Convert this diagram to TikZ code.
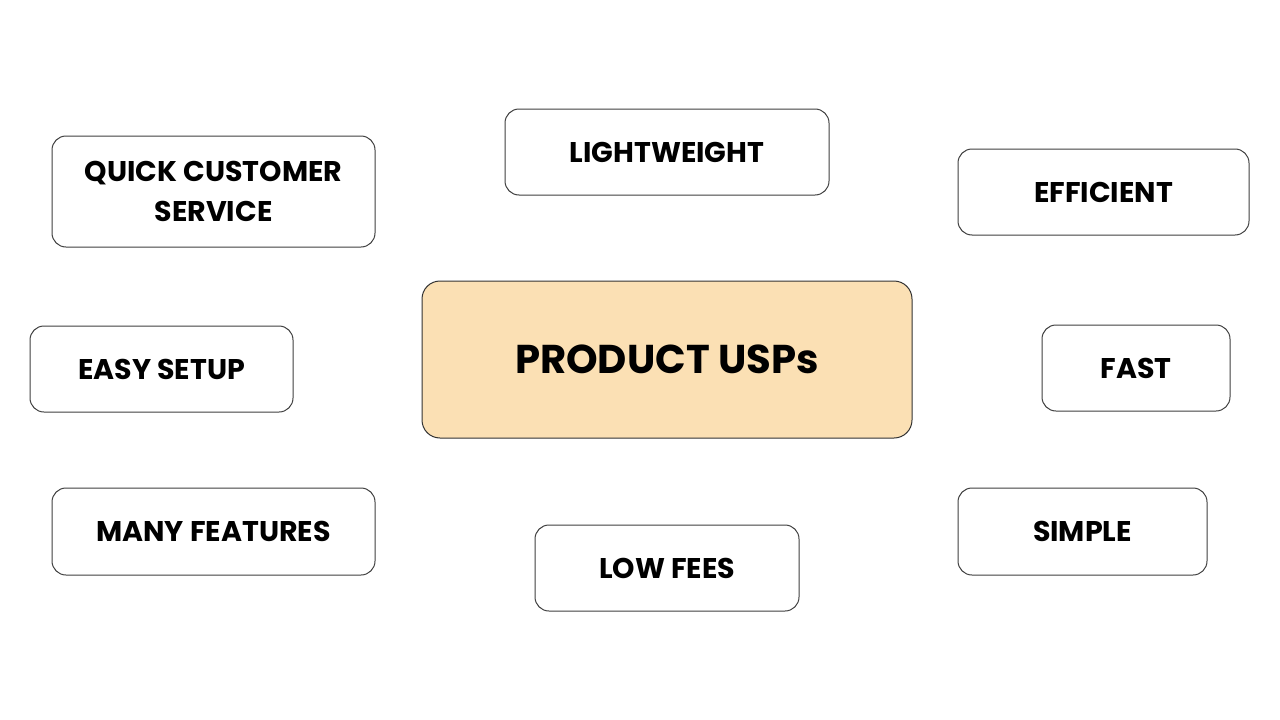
\documentclass[tikz,border=0pt]{standalone}
\usepackage{fontspec}
\setmainfont{Poppins}
\begin{document}
\begin{tikzpicture}[x=1pt,y=-1pt,
  usp/.style={draw=black!75,line width=1pt,fill=white,rounded corners=14pt,
    inner sep=0pt,align=center,font=\fontsize{28.5}{40}\selectfont\bfseries},
  hub/.style={draw=black!80,line width=1pt,rounded corners=18pt,
    inner sep=0pt,align=center,font=\fontsize{40.2}{46}\selectfont\bfseries}]
\useasboundingbox (0,0) rectangle (1280,720);
\fill[white] (0,0) rectangle (1280,720);
\node[hub,minimum width=490pt,minimum height=157pt,fill={rgb,255:red,251;green,224;blue,180}] (c) at (667,359.5) {PRODUCT USPs};
\node[usp,minimum width=323pt,minimum height=111pt] (q) at (213.5,191.5) {QUICK CUSTOMER\\SERVICE};
\node[usp,minimum width=324pt,minimum height=86pt] (l) at (667,152) {LIGHTWEIGHT};
\node[usp,minimum width=291pt,minimum height=86pt] (e) at (1103.5,192) {EFFICIENT};
\node[usp,minimum width=263pt,minimum height=86pt] (s) at (161.5,369) {EASY SETUP};
\node[usp,minimum width=188pt,minimum height=86pt] (f) at (1136,368) {FAST};
\node[usp,minimum width=323pt,minimum height=87pt] (m) at (213.5,531.5) {MANY FEATURES};
\node[usp,minimum width=264pt,minimum height=86pt] (lf) at (667,568) {LOW FEES};
\node[usp,minimum width=249pt,minimum height=87pt] (si) at (1082.5,531.5) {SIMPLE};
\end{tikzpicture}
\end{document}
